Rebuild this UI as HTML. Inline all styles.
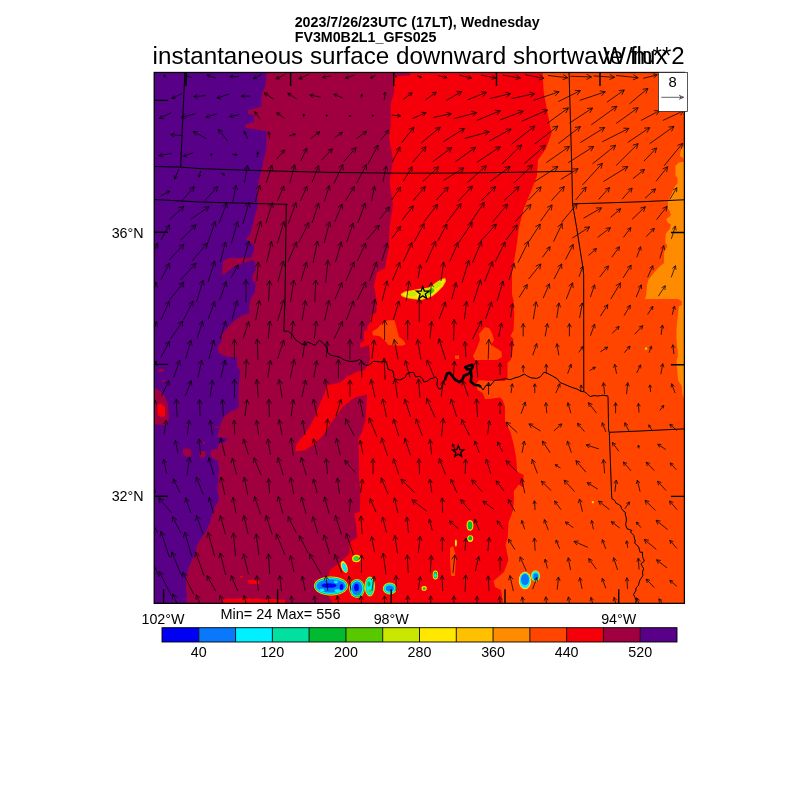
<!DOCTYPE html><html><head><meta charset="utf-8"><style>html,body{margin:0;padding:0;background:#fff;width:800px;height:800px;overflow:hidden}svg{display:block;will-change:transform}text{font-family:"Liberation Sans",Arial,Helvetica,sans-serif}</style></head><body>
<svg width="800" height="800" viewBox="0 0 800 800">
<rect x="0" y="0" width="800" height="800" fill="#fff"/>
<defs><clipPath id="pc"><rect x="154.2" y="72.45" width="530.20" height="530.90"/></clipPath></defs>
<g clip-path="url(#pc)">
<rect x="150" y="70" width="540" height="540" fill="#ff4500"/>
<polygon points="685.00,145.75 682.10,146.90 680.40,152.50 679.90,155.90 683.25,158.10 684.40,161.50 678.75,162.60 675.40,166.00 675.40,175.00 677.60,178.40 677.60,182.90 674.25,187.40 670.90,195.25 668.00,200.90 668.00,208.75 669.75,211.00 670.90,215.50 666.40,219.00 667.50,222.40 670.90,224.60 669.75,229.10 665.80,233.60 665.25,242.60 667.50,246.00 664.10,252.75 664.10,262.90 658.50,267.40 652.90,274.10 648.40,279.75 647.25,284.25 646.10,295.50 645.00,299.00 678.00,299.00 681.75,301.25 681.75,305.00 678.75,306.50 678.00,314.00 676.50,329.00 676.50,339.50 678.00,356.00 676.50,360.50 678.00,380.00 681.75,386.00 682.50,395.00 684.00,398.00 685.00,398.00" fill="#ff8c00"/>
<polygon points="153.00,72.00 542.60,72.00 543.75,92.50 548.00,115.00 551.60,133.00 546.00,148.75 538.00,160.00 537.00,175.75 530.00,193.75 523.50,209.50 519.00,227.50 516.00,250.00 512.00,272.50 512.00,295.00 513.50,300.00 514.25,315.00 513.50,330.00 510.50,336.00 513.50,339.00 512.00,355.50 510.50,360.00 507.50,363.00 507.50,378.00 504.50,381.00 492.50,381.00 479.00,380.25 476.00,384.00 477.50,390.00 482.75,393.00 485.00,399.00 488.00,399.00 500.00,397.50 502.50,400.00 505.00,406.50 505.00,421.00 510.60,432.50 513.90,445.50 516.30,458.50 517.10,471.50 523.60,475.00 523.60,487.75 518.75,484.50 513.90,491.00 513.90,500.75 513.00,510.50 508.50,522.50 507.75,537.50 505.50,545.00 508.50,560.00 504.00,572.00 493.50,581.00 495.00,587.00 501.00,590.00 503.25,604.00 153.00,604.00" fill="#f5000a"/>
<polygon points="388.50,320.25 394.50,320.25 396.00,325.50 397.50,331.50 399.00,336.75 403.50,340.50 405.75,344.25 402.00,345.75 388.50,345.00 384.75,340.50 379.50,336.00 372.75,335.25 372.40,331.50 377.25,328.50 382.50,322.50" fill="#ff4500"/>
<polygon points="485.00,327.00 489.50,328.50 492.50,334.50 494.00,340.00 491.00,345.00 498.50,349.50 501.50,351.75 502.00,357.00 497.00,360.00 475.00,360.00 473.00,356.00 476.00,350.00 480.00,340.00 479.00,334.00" fill="#ff4500"/>
<polygon points="455.00,355.50 459.00,355.50 459.00,359.00 455.00,359.00" fill="#ff4500"/>
<polygon points="450.00,548.00 453.00,546.00 456.00,556.00 455.00,576.00 451.00,576.00 450.00,560.00" fill="#ff4500"/>
<polygon points="153.00,72.00 410.00,72.00 410.00,75.50 394.00,76.50 394.00,92.50 390.75,103.75 390.75,126.00 389.00,137.50 393.00,160.00 389.60,182.50 393.00,205.00 389.60,227.50 388.50,250.00 385.00,268.00 377.00,272.50 374.00,286.00 376.50,300.00 376.50,312.75 370.50,315.00 370.50,322.50 367.50,326.00 367.50,330.00 363.75,331.50 363.75,342.00 360.00,343.50 360.00,347.25 363.00,347.25 369.00,345.00 370.00,358.50 368.50,364.50 364.00,370.50 358.00,371.25 347.50,376.50 340.00,382.50 326.50,385.50 325.00,393.00 320.50,402.00 316.00,414.00 310.00,426.00 304.00,435.00 296.50,444.00 295.25,451.25 304.25,450.50 311.50,446.00 314.50,444.00 323.50,435.00 331.00,423.00 335.50,417.00 343.00,406.50 355.00,397.50 367.00,394.50 365.50,420.00 362.00,432.00 358.25,440.00 359.00,455.00 359.00,479.00 360.50,491.00 359.75,512.00 354.50,513.50 356.00,524.00 357.50,537.50 350.00,542.00 349.50,544.50 349.50,553.50 345.00,558.00 336.00,565.50 330.00,570.00 328.50,576.00 313.50,580.50 327.00,594.00 331.50,600.00 332.25,604.00 153.00,604.00" fill="#a00040"/>
<polygon points="222.00,600.00 228.00,598.50 235.00,599.00 245.00,597.50 252.00,599.00 258.00,598.20 264.00,599.50 270.00,598.50 278.00,599.50 285.00,599.80 285.00,604.00 222.00,604.00" fill="#f5000a"/>
<polygon points="247.50,580.50 252.00,579.50 259.50,581.00 259.50,584.00 249.00,584.00" fill="#f5000a"/>
<polygon points="240.00,576.00 243.00,576.00 243.00,577.50 240.00,577.50" fill="#f5000a"/>
<polygon points="153.00,72.00 266.40,72.00 265.50,85.75 262.00,92.75 261.00,106.75 248.00,110.25 248.00,113.75 254.00,115.50 254.00,122.50 245.40,124.25 245.40,127.75 255.00,129.50 266.40,131.25 266.40,148.75 263.75,159.25 262.00,168.00 260.25,175.00 258.50,182.00 256.75,192.50 257.60,200.00 257.50,207.50 255.60,212.50 253.75,221.25 251.90,227.50 250.00,235.00 245.60,238.75 249.40,241.25 253.75,245.00 254.40,250.00 251.90,255.00 251.25,257.50 228.75,258.10 223.10,261.25 221.90,274.40 225.00,273.75 232.50,267.50 241.25,263.75 252.50,260.00 255.00,262.50 255.60,270.00 252.50,275.00 252.50,281.25 255.60,282.50 255.00,292.50 251.25,297.50 249.00,306.00 249.75,312.75 240.00,316.50 234.00,321.00 228.00,327.00 222.00,334.50 221.25,342.00 217.50,346.50 218.25,352.50 225.00,356.25 237.00,357.75 237.00,366.00 240.00,370.50 238.50,390.00 238.50,408.00 231.00,411.00 225.00,415.50 222.00,420.00 219.00,429.50 217.50,437.00 228.00,438.50 225.00,441.50 219.00,443.75 217.50,447.50 219.00,448.25 211.50,449.75 210.00,455.00 214.50,459.50 218.25,461.00 219.00,470.00 217.50,488.00 219.00,500.00 214.50,507.50 212.25,515.00 209.25,524.00 207.00,530.00 202.50,536.00 197.25,545.00 195.00,554.00 192.00,560.00 188.25,569.00 186.00,578.00 186.00,587.00 186.75,593.00 186.75,604.00 153.00,604.00" fill="#580088"/>
<polygon points="154.00,387.00 160.50,391.50 165.00,396.00 168.00,405.00 168.75,414.00 168.75,420.00 166.00,424.50 160.00,425.00 154.00,424.00" fill="#a00040"/>
<polygon points="158.25,369.00 163.50,369.00 163.50,372.00 158.25,372.00" fill="#a00040"/>
<polygon points="162.00,380.00 165.00,380.00 165.00,381.75 162.00,381.75" fill="#a00040"/>
<polygon points="183.00,449.00 188.00,448.25 191.25,450.00 191.25,456.50 185.00,456.50 183.00,453.00" fill="#a00040"/>
<polygon points="199.50,451.25 205.50,451.25 205.50,457.25 199.50,457.25" fill="#a00040"/>
<polygon points="202.50,441.50 204.75,441.50 204.75,443.75 202.50,443.75" fill="#a00040"/>
<polygon points="215.25,426.50 219.00,426.50 219.00,428.00 215.25,428.00" fill="#a00040"/>
<polygon points="157.50,404.00 161.00,403.50 165.00,407.00 165.00,416.00 161.00,417.00 157.50,415.00" fill="#f5000a"/>
<ellipse cx="331" cy="586" rx="17" ry="9.4" fill="#ffe800"/><ellipse cx="331" cy="586" rx="16.3" ry="8.700000000000001" fill="#00bb30"/><ellipse cx="331" cy="586" rx="15.6" ry="8.0" fill="#00f0ff"/><ellipse cx="331" cy="586" rx="14.4" ry="6.800000000000001" fill="#0a78fa"/>
<ellipse cx="329" cy="585.5" rx="7.5" ry="2.3" fill="#0000f2"/>
<ellipse cx="341.5" cy="587" rx="1.8" ry="3.0" fill="#0000f2"/>
<ellipse cx="336" cy="582" rx="2.2" ry="1.4" fill="#00f0ff"/>
<ellipse cx="337.5" cy="590.5" rx="3.0" ry="1.6" fill="#00f0ff"/>
<ellipse cx="322" cy="590" rx="2.4" ry="1.5" fill="#00f0ff"/>
<ellipse cx="357" cy="588.5" rx="7.8" ry="9.6" fill="#ffe800"/><ellipse cx="357" cy="588.5" rx="7.1" ry="8.9" fill="#00bb30"/><ellipse cx="357" cy="588.5" rx="6.4" ry="8.2" fill="#00f0ff"/><ellipse cx="357" cy="588.5" rx="5.199999999999999" ry="7.0" fill="#0a78fa"/>
<ellipse cx="356.5" cy="587.5" rx="2.4" ry="3.8" fill="#0000f2"/>
<ellipse cx="358.5" cy="594" rx="1.6" ry="1.3" fill="#00bb30"/>
<ellipse cx="369.8" cy="586.5" rx="5.2" ry="10" fill="#c8e800"/><ellipse cx="369.8" cy="586.5" rx="4.2" ry="9.0" fill="#00e09e"/><ellipse cx="369.8" cy="586.5" rx="3.0" ry="7.8" fill="#00f0ff"/>
<ellipse cx="369" cy="584" rx="1.5" ry="2.8" fill="#00bb30"/>
<ellipse cx="370" cy="591" rx="1.5" ry="1.6" fill="#58c800"/>
<ellipse cx="389.8" cy="588.6" rx="7.0" ry="6.0" fill="#c8e800"/><ellipse cx="389.8" cy="588.6" rx="6.1" ry="5.1" fill="#00e09e"/><ellipse cx="389.8" cy="588.6" rx="5.2" ry="4.2" fill="#00f0ff"/><ellipse cx="389.8" cy="588.6" rx="4.0" ry="3.0" fill="#0a78fa"/>
<ellipse cx="344.3" cy="567" rx="3.0" ry="6.2" fill="#ffe800" transform="rotate(-20 344.3 567)"/>
<ellipse cx="344.6" cy="567.5" rx="2.0" ry="4.8" fill="#00f0ff" transform="rotate(-20 344.6 567.5)"/>
<ellipse cx="356.3" cy="558.5" rx="4.2" ry="3.8" fill="#ffe800"/>
<ellipse cx="356.3" cy="558.6" rx="3.0" ry="2.6" fill="#58c800"/>
<ellipse cx="355.8" cy="559" rx="1.4" ry="1.4" fill="#00e09e"/>
<ellipse cx="470" cy="525.4" rx="3.4" ry="5.4" fill="#ffe800"/>
<ellipse cx="470" cy="525.4" rx="2.4" ry="4.2" fill="#00bb30"/>
<ellipse cx="470.25" cy="538.6" rx="3.0" ry="3.4" fill="#ffe800"/>
<ellipse cx="470.25" cy="538.3" rx="2.0" ry="2.2" fill="#00bb30"/>
<ellipse cx="455.9" cy="543" rx="1.0" ry="3.4" fill="#ffe800"/>
<ellipse cx="435.4" cy="575" rx="2.7" ry="4.6" fill="#ffe800"/>
<ellipse cx="435.4" cy="575" rx="1.9" ry="3.4" fill="#00bb30"/>
<ellipse cx="435.4" cy="575.5" rx="1.2" ry="2.2" fill="#00f0ff"/>
<ellipse cx="424.1" cy="588.4" rx="2.6" ry="2.4" fill="#ffe800"/>
<ellipse cx="424.1" cy="588.6" rx="1.5" ry="1.4" fill="#00bb30"/>
<ellipse cx="525" cy="580.5" rx="6.2" ry="8.7" fill="#ffe800"/>
<ellipse cx="525" cy="580.3" rx="5.3" ry="7.6" fill="#00f0ff"/>
<ellipse cx="525" cy="579.5" rx="4.0" ry="5.8" fill="#0a78fa"/>
<ellipse cx="535.5" cy="576" rx="4.6" ry="5.7" fill="#c8e800"/>
<ellipse cx="535.5" cy="576" rx="3.7" ry="4.7" fill="#00f0ff"/>
<ellipse cx="535.8" cy="576.5" rx="2.5" ry="3.2" fill="#0a78fa"/>
<rect x="645" y="347.5" width="2.2" height="2.2" fill="#c8e800"/>
<rect x="591.8" y="501.2" width="2" height="2" fill="#ffe800"/>
<polygon points="400.60,294.00 404.75,291.40 413.00,289.90 419.75,288.75 428.75,287.60 435.50,282.75 441.50,279.00 445.25,277.90 446.00,281.25 443.00,286.50 437.00,292.50 432.50,296.25 426.50,298.50 421.25,300.00 413.75,299.25 406.25,298.10 401.75,296.25" fill="#ffc000"/>
<polygon points="402.50,294.20 406.00,292.30 413.00,291.00 420.00,289.80 429.00,288.60 436.00,283.80 441.80,280.20 444.60,279.30 444.80,281.50 442.00,286.20 436.30,291.80 431.80,295.20 426.00,297.40 421.00,298.90 414.00,298.20 406.50,297.10 403.00,295.60" fill="#ffe800"/>
<ellipse cx="412" cy="294" rx="4.5" ry="2.6" fill="#c8e800"/>
<ellipse cx="426" cy="292.6" rx="6" ry="3.6" fill="#c8e800" transform="rotate(-12 426 292.6)"/>
<ellipse cx="437.5" cy="285" rx="5" ry="2.6" fill="#c8e800" transform="rotate(-38 437.5 285)"/>
<ellipse cx="431" cy="291" rx="3.5" ry="2.4" fill="#58c800" transform="rotate(-25 431 291)"/>
<polyline points="185.00,70.00 180.60,167.10" fill="none" stroke="#000" stroke-width="1.0" stroke-linejoin="round"/>
<polyline points="150.00,166.40 180.60,167.10 200.00,168.60 258.00,170.60 330.00,172.40 400.00,173.20 450.00,173.10 510.00,172.40 571.90,171.25" fill="none" stroke="#000" stroke-width="1.0" stroke-linejoin="round"/>
<polyline points="569.00,70.00 571.90,171.25 572.50,203.80 576.70,228.00 582.50,265.00 583.70,274.40 583.80,391.75" fill="none" stroke="#000" stroke-width="1.0" stroke-linejoin="round"/>
<polyline points="572.50,203.80 600.00,203.10 640.00,201.80 688.00,199.60" fill="none" stroke="#000" stroke-width="1.0" stroke-linejoin="round"/>
<polyline points="150.00,199.30 200.00,202.00 287.50,204.40" fill="none" stroke="#000" stroke-width="1.0" stroke-linejoin="round"/>
<polyline points="286.30,204.40 285.00,300.00 283.80,331.20" fill="none" stroke="#000" stroke-width="1.0" stroke-linejoin="round"/>
<polyline points="284.00,331.20 288.25,331.20 292.40,334.60 295.10,339.40 297.90,341.50 302.00,344.25 305.40,345.00 307.50,342.20 311.60,343.60 315.00,345.40 317.10,342.90 319.20,340.10 322.00,342.20 324.70,345.00 327.50,348.40 327.50,352.50 330.90,355.30 336.40,356.40 339.80,357.30 344.60,360.10 350.15,361.45 355.65,361.05 359.80,359.40 362.50,362.10 366.00,365.60 369.40,364.90 372.85,361.45 376.30,361.45 380.00,361.90 385.00,361.25 386.90,363.75 388.10,369.40 392.50,370.60 393.75,373.75 393.75,377.50 396.25,379.40 400.00,380.00 405.00,377.50 406.90,373.75 410.00,372.50 413.75,372.50 415.60,376.90 420.00,376.25 422.50,378.75 423.75,381.90 427.50,381.25 430.00,378.75 433.75,378.10 435.60,376.90 437.50,379.40 436.90,385.00 438.75,388.75 441.25,388.75 442.50,383.75 445.00,380.00" fill="none" stroke="#000" stroke-width="1.0" stroke-linejoin="round"/>
<polyline points="481.00,387.00 483.10,390.00 486.00,385.30 490.60,385.30 494.40,380.60 500.00,379.70 505.60,378.75 510.30,379.70 515.00,377.80 518.75,376.90 524.40,374.10 527.20,376.00 531.00,377.80 536.60,378.40 540.30,376.90 544.00,372.20 546.90,373.10 552.50,376.00 557.20,378.75 560.00,382.50 564.70,384.40 571.25,387.20 576.90,389.00 580.60,391.00 584.40,391.90 587.20,393.75 590.00,396.60 593.75,395.60 597.50,396.00 603.10,395.25 608.00,396.00" fill="none" stroke="#000" stroke-width="1.0" stroke-linejoin="round"/>
<polyline points="608.00,396.25 608.60,430.00 609.30,432.30 611.60,495.00" fill="none" stroke="#000" stroke-width="1.0" stroke-linejoin="round"/>
<polyline points="609.30,432.30 640.00,431.00 688.00,428.70" fill="none" stroke="#000" stroke-width="1.0" stroke-linejoin="round"/>
<polyline points="611.60,495.00 611.90,498.80 613.90,499.80 615.30,501.20 615.65,502.90 618.75,504.60 620.80,506.00 621.50,508.40 622.90,510.50 625.30,512.20 625.30,515.00 626.30,517.70 626.30,521.10 625.60,524.55 627.00,528.70 629.75,529.70 631.80,530.40 630.40,532.10 632.50,533.80 633.90,535.55 634.55,539.00 635.25,541.00 634.55,543.10 636.90,545.00 638.75,547.25 639.50,550.25 640.25,552.50 642.50,552.10 642.50,556.25 643.25,558.50 644.40,561.10 641.00,563.75 642.50,566.75 643.60,568.60 642.50,572.00 642.90,575.75 640.25,579.50 639.10,582.50 638.40,585.50 636.10,587.75 635.75,590.75 633.50,594.50 635.00,597.50 636.10,600.50 635.40,606.00" fill="none" stroke="#000" stroke-width="1.0" stroke-linejoin="round"/>
<polyline points="445.00,380.00 446.75,374.25 447.50,373.50 449.75,372.75 452.00,375.75 455.00,379.50 459.50,382.20 462.50,379.50 464.00,375.75 467.75,374.25 470.75,372.00 470.00,369.00 467.00,369.30 465.20,367.20 467.75,366.00 472.25,364.80 472.70,366.75 470.75,370.50 471.50,376.50 470.75,381.75 474.50,384.75 479.00,385.50 481.00,387.00" fill="none" stroke="#000" stroke-width="2.7" stroke-linejoin="round"/>
<path d="M166.65 78.10L163.65 75.10M164.40 77.54L163.65 75.10L166.09 75.85M192.25 77.60L184.25 75.60M186.74 77.84L184.25 75.60L187.50 74.79M215.85 78.10L206.85 75.10M209.33 77.71L206.85 75.10L210.40 74.50M238.95 76.60L229.95 76.60M233.04 78.24L229.95 76.60L233.04 74.96M261.55 74.60L253.55 78.60M257.04 78.69L253.55 78.60L255.57 75.76M285.15 74.35L276.15 78.85M279.86 78.94L276.15 78.85L278.30 75.83M308.75 74.35L298.75 78.85M302.63 79.11L298.75 78.85L301.13 75.77M331.10 75.85L322.60 77.35M325.86 78.41L322.60 77.35L325.30 75.24M354.45 75.10L345.45 78.10M349.00 78.70L345.45 78.10L347.93 75.49M375.55 75.10L370.55 78.10M373.41 77.95L370.55 78.10L372.03 75.64M395.65 76.35L396.65 76.85M395.49 75.22L396.65 76.85L394.65 76.90M417.00 75.85L421.50 77.35M419.67 75.43L421.50 77.35L418.89 77.79M437.85 75.50L446.85 77.70M444.20 75.33L446.85 77.70L443.41 78.58M459.25 75.10L471.65 78.10M468.47 75.28L471.65 78.10L467.53 79.16M481.25 75.10L495.85 78.10M492.24 75.12L495.85 78.10L491.36 79.42M502.95 75.10L520.35 78.10M516.22 74.89L520.35 78.10L515.38 79.74M525.45 74.85L544.05 78.35M539.77 74.92L544.05 78.35L538.81 79.99M547.95 75.45L567.75 77.75M563.14 74.57L567.75 77.75L562.54 79.79M570.45 76.25L591.45 76.95M586.60 74.16L591.45 76.95L586.42 79.41M593.55 75.90L614.55 77.30M609.79 74.35L614.55 77.30L609.44 79.59M616.15 75.45L638.15 77.75M633.51 74.62L638.15 77.75L632.96 79.85M643.25 78.35L657.25 74.85M652.80 73.74L657.25 74.85L653.84 77.92M181.70 93.84L171.70 98.34M175.58 98.60L171.70 98.34L174.08 95.26M205.80 95.59L193.80 96.59M197.58 98.21L193.80 96.59L197.25 94.37M228.90 94.09L216.90 98.09M221.07 98.79L216.90 98.09L219.82 95.03M250.50 96.09L241.50 96.09M244.59 97.73L241.50 96.09L244.59 94.45M274.10 99.39L264.10 92.79M266.06 96.39L264.10 92.79L268.18 93.18M296.70 98.96L287.70 93.21M289.58 96.56L287.70 93.21L291.52 93.52M320.80 97.09L309.80 95.09M312.89 97.53L309.80 95.09L313.55 93.89M342.90 97.99L333.90 94.19M336.20 97.03L333.90 94.19L337.54 93.86M360.85 97.99L362.15 94.19M360.32 95.90L362.15 94.19L362.55 96.66M384.10 100.09L385.10 92.09M383.19 94.80L385.10 92.09L386.28 95.19M403.20 99.46L412.20 92.71M408.30 93.32L412.20 92.71L410.52 96.29M425.30 100.09L436.30 92.09M431.92 92.71L436.30 92.09L434.36 96.06M446.03 100.69L461.78 91.49M456.43 91.70L461.78 91.49L458.96 96.04M467.50 99.89L486.50 92.29M480.93 91.69L486.50 92.29L482.89 96.57M489.60 98.59L510.60 93.59M505.18 92.18L510.60 93.59L506.40 97.29M511.70 98.59L534.70 93.59M529.31 92.07L534.70 93.59L530.43 97.21M533.50 100.39L559.10 91.79M553.58 90.87L559.10 91.79L555.25 95.86M558.40 101.59L580.40 90.59M574.80 90.45L580.40 90.59L577.15 95.15M579.70 100.39L605.30 91.79M599.78 90.87L605.30 91.79L601.45 95.86M606.90 102.24L624.30 89.94M618.74 90.65L624.30 89.94L621.78 94.94M629.40 103.89L648.00 88.29M642.52 89.45L648.00 88.29L645.90 93.48M171.15 112.70L159.15 118.45M163.51 118.64L159.15 118.45L161.74 114.94M195.25 113.70L181.25 117.45M185.73 118.49L181.25 117.45L184.61 114.32M216.85 113.93L205.85 117.23M209.77 118.01L205.85 117.23L208.69 114.42M239.45 114.48L229.45 116.68M233.06 117.69L229.45 116.68L232.30 114.25M260.30 119.43L254.80 111.73M255.27 115.29L254.80 111.73L258.02 113.33M284.50 118.45L276.80 112.70M278.34 115.98L276.80 112.70L280.38 113.26M303.75 117.23L303.75 113.93M302.64 116.01L303.75 113.93L304.86 116.01M327.60 116.33L326.10 114.83M326.72 116.86L326.10 114.83L328.13 115.45M349.95 116.08L349.95 115.08M349.01 116.85L349.95 115.08L350.89 116.85M372.55 115.58L373.55 115.58M371.78 114.64L373.55 115.58L371.78 116.52M391.65 115.08L400.65 116.08M397.75 114.10L400.65 116.08L397.39 117.38M412.50 118.58L426.00 112.58M421.36 112.25L426.00 112.58L423.13 116.25M433.35 117.48L451.35 113.68M446.18 112.19L451.35 113.68L447.22 117.13M454.20 118.58L476.70 112.58M471.25 111.31L476.70 112.58L472.60 116.39M476.75 120.43L500.35 110.73M494.78 110.18L500.35 110.73L496.78 115.04M500.02 119.98L523.27 111.18M517.72 110.47L523.27 111.18L519.58 115.39M521.95 121.18L547.55 109.98M541.97 109.55L547.55 109.98L544.07 114.37M547.35 123.23L568.35 107.93M562.81 108.72L568.35 107.93L565.90 112.97M569.33 123.13L592.58 108.03M587.00 108.52L592.58 108.03L589.86 112.93M591.25 124.88L616.85 106.28M611.30 107.06L616.85 106.28L614.40 111.31M616.15 123.48L638.15 107.68M632.60 108.43L638.15 107.68L635.67 112.70M640.95 120.48L659.55 110.68M653.95 110.66L659.55 110.68L656.40 115.31M662.85 120.48L683.85 110.68M678.26 110.39L683.85 110.68L680.48 115.15M182.70 135.57L170.70 134.57M174.15 136.79L170.70 134.57L174.48 132.95M206.30 138.57L193.30 131.57M195.88 135.44L193.30 131.57L197.95 131.59M227.40 140.82L218.40 129.32M219.21 133.87L218.40 129.32L222.62 131.20M247.75 138.92L244.25 131.22M244.04 134.61L244.25 131.22L246.94 133.29M269.60 138.37L268.60 131.77M267.59 134.63L268.60 131.77L270.41 134.21M288.90 135.97L295.50 134.17M292.51 133.49L295.50 134.17L293.27 136.27M310.80 138.37L319.80 131.77M315.91 132.33L319.80 131.77L318.09 135.31M334.45 137.77L342.35 132.37M338.76 132.77L342.35 132.37L340.67 135.57M356.50 138.67L366.50 131.47M362.37 132.03L366.50 131.47L364.66 135.21M380.65 140.07L388.55 130.07M384.66 131.78L388.55 130.07L387.79 134.25M401.50 142.94L413.90 127.19M408.78 129.45L413.90 127.19L412.91 132.71M421.30 142.94L440.30 127.19M434.82 128.33L440.30 127.19L438.17 132.37M443.20 141.82L464.60 128.32M459.02 128.73L464.60 128.32L461.82 133.18M464.62 138.44L489.38 131.69M483.91 130.46L489.38 131.69L485.30 135.53M489.10 141.07L511.10 129.07M505.50 129.13L511.10 129.07L508.02 133.75M511.58 144.07L534.83 126.07M529.31 127.02L534.83 126.07L532.52 131.18M534.67 144.07L557.92 126.07M552.41 127.02L557.92 126.07L555.62 131.18M558.40 143.57L580.40 126.57M574.88 127.51L580.40 126.57L578.10 131.67M580.30 142.62L604.70 127.52M599.11 127.89L604.70 127.52L601.88 132.36M602.25 141.82L628.95 128.32M623.35 128.20L628.95 128.32L625.72 132.90M627.70 142.52L649.70 127.62M644.13 128.22L649.70 127.62L647.08 132.57M649.60 143.77L674.00 126.37M668.45 127.10L674.00 126.37L671.50 131.38M171.65 153.46L158.65 155.66M162.77 157.03L158.65 155.66L162.09 153.01M193.25 152.69L183.25 156.44M187.05 156.93L183.25 156.44L185.79 153.56M211.35 153.56L211.35 155.56M212.34 153.71L211.35 155.56L210.36 153.71M231.70 154.06L237.20 155.06M234.99 153.31L237.20 155.06L234.52 155.92M257.05 157.31L258.05 151.81M256.30 154.02L258.05 151.81L258.91 154.49M276.80 159.21L284.50 149.91M280.70 151.48L284.50 149.91L283.67 153.94M300.75 161.06L306.75 148.06M303.12 150.82L306.75 148.06L307.01 152.62M321.35 160.31L332.35 148.81M327.71 150.34L332.35 148.81L331.03 153.51M343.75 161.66L356.15 147.46M351.04 149.41L356.15 147.46L354.91 152.79M368.05 163.91L378.05 145.21M373.40 148.33L378.05 145.21L378.04 150.81M392.20 162.21L400.10 146.91M395.87 149.84L400.10 146.91L400.16 152.05M412.50 162.44L426.00 146.69M420.79 148.73L426.00 146.69L424.78 152.15M432.85 161.66L451.85 147.46M446.32 148.31L451.85 147.46L449.46 152.53M455.33 161.86L475.58 147.26M470.03 148.02L475.58 147.26L473.10 152.28M476.75 162.44L500.35 146.69M494.78 147.24L500.35 146.69L497.70 151.62M501.75 164.21L521.55 144.91M516.17 146.48L521.55 144.91L519.84 150.24M524.25 163.86L545.25 145.26M539.81 146.57L545.25 145.26L543.29 150.51M546.23 162.71L569.48 146.41M563.92 147.10L569.48 146.41L566.94 151.40M568.15 162.71L593.75 146.41M588.17 146.85L593.75 146.41L590.99 151.28M592.43 163.86L615.68 145.26M610.17 146.30L615.68 145.26L613.46 150.40M616.15 165.51L638.15 143.61M632.79 145.24L638.15 143.61L636.50 148.96M643.85 161.21L656.65 147.91M651.52 149.58L656.65 147.91L655.17 153.10M664.05 165.81L682.65 143.31M677.47 145.45L682.65 143.31L681.53 148.80M178.70 169.05L174.70 179.05M177.64 176.56L174.70 179.05L174.28 175.22M200.55 170.75L199.05 177.35M201.05 175.04L199.05 177.35L198.25 174.40M220.90 172.95L224.90 175.15M223.47 172.96L224.90 175.15L222.29 175.11M244.50 182.90L247.50 165.20M244.27 169.39L247.50 165.20L249.17 170.22M266.10 182.90L272.10 165.20M268.14 168.93L272.10 165.20L272.98 170.57M289.70 183.45L294.70 164.65M290.89 168.75L294.70 164.65L295.97 170.10M312.00 182.55L318.60 165.55M314.55 169.04L318.60 165.55L319.23 170.86M333.90 183.55L342.90 164.55M338.41 167.89L342.90 164.55L343.16 170.14M356.50 183.55L366.50 164.55M361.87 167.70L366.50 164.55L366.52 170.15M382.90 181.92L386.30 166.17M383.12 169.94L386.30 166.17L387.64 170.91M403.20 181.35L412.20 166.75M407.77 169.34L412.20 166.75L411.87 171.87M422.93 181.35L438.68 166.75M433.26 168.18L438.68 166.75L436.84 172.04M443.78 180.25L464.03 167.85M458.44 168.19L464.03 167.85L461.18 172.67M467.50 182.50L486.50 165.60M481.06 166.92L486.50 165.60L484.55 170.85M490.10 181.55L510.10 166.55M504.57 167.41L510.10 166.55L507.72 171.62M513.90 183.10L532.50 165.00M527.12 166.56L532.50 165.00L530.79 170.33M534.67 181.60L557.92 166.50M552.35 166.99L557.92 166.50L555.21 171.40M560.70 179.50L578.10 168.60M572.51 169.00L578.10 168.60L575.31 173.45M582.60 184.85L602.40 163.25M597.12 165.12L602.40 163.25L601.00 168.67M603.40 181.60L627.80 166.50M622.21 166.87L627.80 166.50L624.98 171.34M632.90 178.70L644.50 169.40M639.91 170.27L644.50 169.40L642.65 173.69M656.00 181.35L667.60 166.75M662.62 168.92L667.60 166.75L666.61 172.09M160.50 196.04L169.80 191.04M165.99 191.06L169.80 191.04L167.68 194.21M182.25 200.54L194.25 186.54M189.23 188.51L194.25 186.54L193.07 191.80M204.85 200.54L217.85 186.54M212.63 188.35L217.85 186.54L216.43 191.88M232.80 201.84L236.10 185.24M232.88 189.18L236.10 185.24L237.57 190.11M255.35 201.84L259.75 185.24M256.26 189.00L259.75 185.24L260.92 190.24M277.35 201.04L283.95 186.04M280.04 189.12L283.95 186.04L284.32 191.00M300.45 200.84L307.05 186.24M303.17 189.24L307.05 186.24L307.36 191.13M324.35 201.54L329.35 185.54M325.76 189.09L329.35 185.54L330.28 190.51M345.45 200.54L354.45 186.54M350.06 189.00L354.45 186.54L354.03 191.55M371.55 201.04L374.55 186.04M371.53 189.72L374.55 186.04L375.92 190.60M391.65 200.04L400.65 187.04M396.33 189.27L400.65 187.04L400.08 191.87M413.25 200.54L425.25 186.54M420.23 188.51L425.25 186.54L424.07 191.80M436.35 200.04L448.35 187.04M443.41 188.77L448.35 187.04L447.02 192.11M458.45 201.04L472.45 186.04M467.15 187.86L472.45 186.04L471.00 191.45M481.55 200.54L495.55 186.54M490.19 188.18L495.55 186.54L493.91 191.90M504.10 200.54L519.20 186.54M513.79 187.97L519.20 186.54L517.36 191.83M528.35 200.19L541.15 186.89M536.02 188.56L541.15 186.89L539.67 192.08M551.45 200.54L564.25 186.54M559.07 188.38L564.25 186.54L562.88 191.86M575.70 199.94L586.20 187.14M581.57 189.07L586.20 187.14L585.21 192.05M598.55 199.54L609.55 187.54M604.88 189.19L609.55 187.54L608.31 192.34M622.15 199.04L632.15 188.04M627.75 189.62L632.15 188.04L631.00 192.57M645.00 198.19L655.50 188.89M651.12 189.94L655.50 188.89L653.92 193.11M669.85 199.34L676.85 187.74M673.07 190.00L676.85 187.74L676.61 192.14M169.50 219.68L183.90 206.38M178.48 207.80L183.90 206.38L182.05 211.67M190.40 219.43L209.20 206.63M203.63 207.24L209.20 206.63L206.59 211.59M219.05 223.33L226.75 202.73M222.56 206.44L226.75 202.73L227.48 208.28M243.00 223.88L249.00 202.18M245.15 206.25L249.00 202.18L250.22 207.65M265.80 223.33L272.40 202.73M268.39 206.64L272.40 202.73L273.40 208.24M288.35 223.53L296.05 202.53M291.88 206.27L296.05 202.53L296.82 208.08M312.00 223.03L318.60 203.03M314.55 206.90L318.60 203.03L319.55 208.55M334.70 222.03L342.10 204.03M337.79 207.60L342.10 204.03L342.65 209.60M357.80 223.03L365.20 203.03M361.02 206.75L365.20 203.03L365.95 208.58M379.60 219.23L389.60 206.83M385.11 208.75L389.60 206.83L388.68 211.63M402.07 220.13L413.32 205.93M408.45 208.06L413.32 205.93L412.37 211.17M424.05 221.68L437.55 204.38M432.44 206.66L437.55 204.38L436.58 209.90M446.60 222.53L461.20 203.53M456.10 205.85L461.20 203.53L460.27 209.05M469.70 223.73L484.30 202.33M479.34 204.93L484.30 202.33L483.69 207.90M492.60 222.03L507.60 204.03M502.41 206.15L507.60 204.03L506.45 209.51M515.40 221.63L531.00 204.43M525.73 206.33L531.00 204.43L529.63 209.86M540.50 221.18L552.10 204.88M547.09 207.38L552.10 204.88L551.38 210.43M561.60 222.33L577.20 203.73M572.01 205.83L577.20 203.73L576.04 209.21M583.45 218.28L601.55 207.78M595.95 207.99L601.55 207.78L598.59 212.54M610.60 217.33L620.60 208.73M616.37 209.68L620.60 208.73L619.02 212.77M632.05 219.33L645.35 206.73M640.18 208.16L645.35 206.73L643.64 211.82M656.55 219.68L667.05 206.38M662.39 208.43L667.05 206.38L666.14 211.39M160.75 240.27L169.55 224.77M165.11 227.59L169.55 224.77L169.40 230.03M180.50 240.27L196.00 224.77M190.64 226.41L196.00 224.77L194.36 230.13M207.50 243.52L215.20 221.52M211.09 225.32L215.20 221.52L216.05 227.06M231.35 243.52L237.55 221.52M233.68 225.57L237.55 221.52L238.74 226.99M254.45 243.52L260.65 221.52M256.78 225.57L260.65 221.52L261.84 226.99M277.35 243.52L283.95 221.52M280.01 225.50L283.95 221.52L285.05 227.01M298.75 242.52L308.75 222.52M304.19 225.77L308.75 222.52L308.89 228.12M324.05 243.22L329.65 221.82M325.85 225.94L329.65 221.82L330.94 227.27M346.80 242.02L353.10 223.02M349.05 226.89L353.10 223.02L354.04 228.54M366.85 239.82L379.25 225.22M374.11 227.26L379.25 225.22L378.07 230.62M391.65 238.72L400.65 226.32M396.37 228.41L400.65 226.32L399.99 231.04M414.25 241.52L424.25 223.52M419.55 226.57L424.25 223.52L424.15 229.12M437.85 241.02L446.85 224.02M442.26 227.13L446.85 224.02L446.86 229.57M458.70 242.64L472.20 222.39M467.27 225.05L472.20 222.39L471.64 227.97M480.68 241.02L496.43 224.02M491.14 225.86L496.43 224.02L494.99 229.43M506.05 240.07L517.25 224.97M512.32 227.32L517.25 224.97L516.44 230.37M529.25 241.02L540.25 224.02M535.36 226.74L540.25 224.02L539.77 229.60M553.55 241.57L562.15 223.47M557.65 226.81L562.15 223.47L562.40 229.06M572.25 238.12L589.65 226.92M584.07 227.39L589.65 226.92L586.92 231.81M597.65 237.42L610.45 227.62M605.59 228.43L610.45 227.62L608.40 232.10M623.45 237.42L630.85 227.62M627.08 229.37L630.85 227.62L630.20 231.72M646.20 236.72L654.30 228.32M650.46 229.57L654.30 228.32L653.19 232.20M671.35 238.92L675.35 226.12M672.23 229.20L675.35 226.12L676.16 230.43M149.60 261.01L157.60 243.01M153.19 246.46L157.60 243.01L157.99 248.60M169.50 259.76L183.90 244.26M178.61 246.09L183.90 244.26L182.46 249.67M192.05 260.86L207.55 243.16M202.31 245.15L207.55 243.16L206.27 248.61M220.40 262.01L225.40 242.01M221.65 246.17L225.40 242.01L226.75 247.44M242.90 263.01L249.10 241.01M245.23 245.06L249.10 241.01L250.29 246.48M266.60 262.51L271.60 241.51M267.90 245.71L271.60 241.51L273.01 246.93M287.80 262.01L296.60 242.01M292.20 245.48L296.60 242.01L297.02 247.59M313.10 263.01L317.50 241.01M313.95 245.34L317.50 241.01L319.11 246.37M335.47 262.13L341.32 241.88M337.43 245.91L341.32 241.88L342.48 247.36M357.35 261.01L365.65 243.01M361.19 246.40L365.65 243.01L365.97 248.60M381.80 261.01L387.40 243.01M383.51 246.86L387.40 243.01L388.42 248.38M403.45 261.51L411.95 242.51M407.53 245.95L411.95 242.51L412.33 248.10M425.95 262.71L435.65 241.31M431.21 244.73L435.65 241.31L436.00 246.90M449.75 261.51L458.05 242.51M453.66 245.99L458.05 242.51L458.48 248.09M472.50 262.71L481.50 241.31M477.16 244.85L481.50 241.31L482.01 246.89M495.10 262.01L505.10 242.01M500.54 245.26L505.10 242.01L505.24 247.61M517.95 262.71L528.45 241.31M523.91 244.59L528.45 241.31L528.63 246.91M542.45 257.26L550.15 246.76M546.27 248.63L550.15 246.76L549.53 251.02M565.55 259.56L573.25 244.46M569.08 247.38L573.25 244.46L573.34 249.55M588.45 255.51L596.55 248.51M592.80 249.36L596.55 248.51L595.16 252.09M611.75 257.26L619.45 246.76M615.57 248.63L619.45 246.76L618.83 251.02M636.70 257.26L640.70 246.76M637.73 249.36L640.70 246.76L641.19 250.68M659.80 258.41L663.80 245.61M660.68 248.69L663.80 245.61L664.61 249.92M160.75 279.80L169.55 263.20M165.03 266.26L169.55 263.20L169.56 268.66M180.50 279.80L196.00 263.20M190.70 265.02L196.00 263.20L194.55 268.61M208.05 282.00L214.65 261.00M210.66 264.93L214.65 261.00L215.68 266.51M230.80 278.15L238.10 264.85M234.14 267.45L238.10 264.85L238.04 269.58M256.80 281.00L258.30 262.00M255.34 266.65L258.30 262.00L260.50 267.06M277.90 282.00L283.40 261.00M279.60 265.12L283.40 261.00L284.69 266.45M301.00 280.90L306.50 262.10M302.59 266.11L306.50 262.10L307.63 267.58M325.73 282.75L327.98 260.25M324.87 264.91L327.98 260.25L330.10 265.43M345.70 281.00L354.20 262.00M349.78 265.44L354.20 262.00L354.58 267.59M369.45 281.00L376.65 262.00M372.44 265.69L376.65 262.00L377.36 267.56M392.45 280.50L399.85 262.50M395.54 266.07L399.85 262.50L400.40 268.07M418.12 278.25L420.38 264.75M417.68 268.27L420.38 264.75L421.79 268.96M441.00 281.00L443.70 262.00M440.44 266.48L443.70 262.00L445.59 267.21M462.08 282.75L468.83 260.25M464.89 264.23L468.83 260.25L469.92 265.74M484.60 281.62L492.50 261.38M488.25 265.03L492.50 261.38L493.15 266.94M509.10 279.65L514.20 263.35M510.56 266.94L514.20 263.35L515.14 268.38M528.60 279.05L540.90 263.95M535.74 266.12L540.90 263.95L539.82 269.44M554.00 279.05L561.70 263.95M557.53 266.87L561.70 263.95L561.79 269.04M578.95 276.75L582.95 266.25M579.98 268.85L582.95 266.25L583.44 270.17M599.65 277.10L608.45 265.90M604.29 267.74L608.45 265.90L607.65 270.38M623.10 277.90L631.20 265.10M627.09 267.44L631.20 265.10L630.84 269.82M647.60 277.30L652.90 265.70M649.53 268.28L652.90 265.70L653.16 269.94M671.25 277.30L675.45 265.70M672.36 268.49L675.45 265.70L676.04 269.83M151.10 299.99L156.10 281.99M152.36 285.93L156.10 281.99L157.27 287.30M169.50 299.84L183.90 282.14M178.74 284.32L183.90 282.14L182.82 287.63M196.50 301.99L203.10 279.99M199.16 283.97L203.10 279.99L204.20 285.48M219.60 300.39L226.20 281.59M222.08 285.38L226.20 281.59L227.04 287.13M246.00 302.49L246.00 279.49M243.37 284.43L246.00 279.49L248.63 284.43M268.60 301.49L269.60 280.49M266.74 285.30L269.60 280.49L271.99 285.55M290.55 301.99L293.85 279.99M290.52 284.49L293.85 279.99L295.72 285.27M314.80 301.99L315.80 279.99M312.95 284.81L315.80 279.99L318.20 285.05M334.80 299.49L342.00 282.49M337.81 285.89L342.00 282.49L342.47 287.86M357.25 299.99L365.75 281.99M361.26 285.34L365.75 281.99L366.02 287.58M382.00 301.12L387.20 280.87M383.42 285.00L387.20 280.87L388.52 286.31M406.35 300.99L409.05 280.99M405.78 285.54L409.05 280.99L410.99 286.24M430.25 299.49L431.35 282.49M428.67 286.84L431.35 282.49L433.45 287.14M451.65 299.49L456.15 282.49M452.60 286.32L456.15 282.49L457.34 287.57M473.40 302.24L480.60 279.74M476.59 283.65L480.60 279.74L481.60 285.25M497.10 300.99L503.10 280.99M499.16 284.97L503.10 280.99L504.20 286.48M519.15 297.39L527.25 284.59M523.14 286.93L527.25 284.59L526.89 289.31M543.15 298.19L549.45 283.79M545.65 286.80L549.45 283.79L549.82 288.62M566.25 299.14L572.55 282.84M568.62 286.24L572.55 282.84L573.17 288.00M590.40 297.14L594.60 284.84M591.46 287.78L594.60 284.84L595.28 289.08M610.70 299.14L620.50 282.84M615.78 285.67L620.50 282.84L620.21 288.34M636.15 297.14L641.25 284.84M637.88 287.61L641.25 284.84L641.67 289.18M658.30 296.24L665.30 285.74M661.58 287.74L665.30 285.74L664.88 289.94M161.05 319.88L169.25 301.08M164.86 304.56L169.25 301.08L169.68 306.66M183.50 319.88L193.00 301.08M188.42 304.31L193.00 301.08L193.12 306.68M208.05 319.33L214.65 301.63M210.55 305.26L214.65 301.63L215.37 307.06M231.95 320.48L236.95 300.48M233.20 304.64L236.95 300.48L238.30 305.91M255.65 320.48L259.45 300.48M255.94 304.85L259.45 300.48L261.11 305.83M277.55 320.98L283.75 299.98M279.83 303.98L283.75 299.98L284.87 305.47M302.10 320.48L305.40 300.48M302.00 304.93L305.40 300.48L307.19 305.79M324.60 320.61L329.10 300.36M325.46 304.61L329.10 300.36L330.59 305.75M346.35 319.98L353.55 300.98M349.34 304.67L353.55 300.98L354.26 306.54M371.15 321.73L374.95 299.23M371.53 303.67L374.95 299.23L376.72 304.54M393.35 319.98L398.95 300.98M395.03 304.98L398.95 300.98L400.07 306.47M419.25 322.28L419.25 298.68M416.62 303.62L419.25 298.68L421.88 303.62M439.20 318.98L445.50 301.98M441.52 305.52L445.50 301.98L446.21 307.26M464.33 319.48L466.58 301.48M463.51 305.84L466.58 301.48L468.47 306.46M485.55 318.98L491.55 301.98M487.64 305.57L491.55 301.98L492.34 307.23M510.70 317.48L512.60 303.48M509.96 307.15L512.60 303.48L514.17 307.73M533.35 319.18L536.15 301.78M533.00 305.94L536.15 301.78L537.84 306.72M556.70 318.03L559.00 302.93M556.16 306.74L559.00 302.93L560.57 307.42M579.55 317.98L582.35 302.98M579.39 306.70L582.35 302.98L583.77 307.51M600.35 316.28L607.75 304.68M603.87 306.87L607.75 304.68L607.40 309.12M624.00 315.73L630.30 305.23M626.74 307.37L630.30 305.23L630.09 309.37M647.60 314.53L652.90 306.43M649.71 308.18L652.90 306.43L652.57 310.05M672.20 314.78L674.50 306.18M672.13 308.73L674.50 306.18L675.28 309.57M150.60 338.47L156.60 321.47M152.69 325.06L156.60 321.47L157.39 326.72M170.60 338.82L182.80 321.12M177.83 323.70L182.80 321.12L182.16 326.68M197.05 338.82L202.55 321.12M198.71 324.93L202.55 321.12L203.56 326.43M220.15 338.82L225.65 321.12M221.81 324.93L225.65 321.12L226.66 326.43M243.25 338.27L248.75 321.67M244.99 325.26L248.75 321.67L249.62 326.79M268.20 338.82L270.00 321.12M267.07 325.49L270.00 321.12L271.99 325.99M291.20 338.97L293.20 320.97M290.20 325.36L293.20 320.97L295.16 325.92M314.30 338.97L316.30 320.97M313.30 325.36L316.30 320.97L318.26 325.92M334.25 338.47L342.55 321.47M338.11 324.69L342.55 321.47L342.74 326.95M360.85 338.97L362.15 320.97M359.33 325.47L362.15 320.97L364.30 325.83M384.60 339.97L384.60 319.97M381.97 324.91L384.60 319.97L387.23 324.91M407.70 339.97L407.70 319.97M405.07 324.91L407.70 319.97L410.33 324.91M429.90 338.47L431.70 321.47M428.83 325.71L431.70 321.47L433.61 326.22M453.55 340.47L454.25 319.47M451.46 324.32L454.25 319.47L456.71 324.50M472.50 338.97L481.50 320.97M476.94 324.22L481.50 320.97L481.64 326.57M498.60 336.97L501.60 322.97M498.66 326.46L501.60 322.97L502.85 327.36M523.20 336.37L523.20 323.57M521.20 327.33L523.20 323.57L525.20 327.33M545.15 336.37L547.45 323.57M544.79 326.95L547.45 323.57L548.77 327.66M569.40 336.37L569.40 323.57M567.40 327.33L569.40 323.57L571.40 327.33M590.40 335.77L594.60 324.17M591.51 326.96L594.60 324.17L595.19 328.30M612.10 333.47L619.10 326.47M615.58 327.55L619.10 326.47L618.02 329.99M634.65 334.27L642.75 325.67M638.90 326.97L642.75 325.67L641.68 329.59M661.10 334.87L662.50 325.07M660.33 328.04L662.50 325.07L663.75 328.53M160.75 357.76L169.55 341.16M165.03 344.22L169.55 341.16L169.56 346.62M185.60 358.86L190.90 340.06M187.03 344.11L190.90 340.06L192.09 345.53M208.90 358.86L213.80 340.06M210.02 344.17L213.80 340.06L215.09 345.49M234.45 359.46L234.45 339.46M231.82 344.40L234.45 339.46L237.08 344.40M257.90 359.96L257.20 338.96M254.74 343.99L257.20 338.96L259.99 343.81M277.55 358.86L283.75 340.06M279.70 343.93L283.75 340.06L284.70 345.58M302.55 357.76L304.95 341.16M301.96 345.24L304.95 341.16L306.66 345.92M326.35 357.46L327.35 341.46M324.78 345.64L327.35 341.46L329.38 345.93M349.95 359.46L349.95 339.46M347.32 344.40L349.95 339.46L352.58 344.40M371.95 358.96L374.15 339.96M371.01 344.51L374.15 339.96L376.17 345.10M398.05 359.46L394.25 339.46M392.59 344.81L394.25 339.46L397.76 343.83M420.95 359.46L417.55 339.46M415.79 344.78L417.55 339.46L420.97 343.89M445.73 360.16L438.98 338.76M437.96 344.27L438.98 338.76L442.97 342.68M466.00 357.33L464.90 341.58M462.92 346.02L464.90 341.58L467.47 345.70M488.20 359.46L488.90 339.46M486.10 344.31L488.90 339.46L491.35 344.49M511.30 357.36L512.00 341.56M509.53 345.75L512.00 341.56L514.09 345.95M532.75 355.26L536.75 343.66M533.71 346.49L536.75 343.66L537.40 347.76M558.80 355.26L556.90 343.66M555.60 347.50L556.90 343.66L559.35 346.88M578.65 352.46L583.25 346.46M580.33 347.79L583.25 346.46L582.72 349.63M600.35 351.81L607.75 347.11M604.31 347.38L607.75 347.11L606.05 350.11M624.25 352.71L630.05 346.21M626.82 347.40L630.05 346.21L629.23 349.55M649.10 352.71L651.40 346.21M649.13 348.29L651.40 346.21L651.86 349.26M673.95 354.11L672.75 344.81M671.49 348.16L672.75 344.81L674.82 347.73M151.10 376.95L156.10 360.95M152.51 364.50L156.10 360.95L157.03 365.92M173.70 377.60L179.70 360.30M175.77 363.95L179.70 360.30L180.53 365.60M197.90 377.95L201.70 359.95M198.25 364.08L201.70 359.95L203.19 365.12M220.70 377.95L225.10 359.95M221.50 363.98L225.10 359.95L226.43 365.19M245.55 378.35L246.45 359.55M243.66 364.25L246.45 359.55L248.78 364.49M267.75 377.60L270.45 360.30M267.33 364.46L270.45 360.30L272.15 365.21M290.20 378.35L294.20 359.55M290.64 363.80L294.20 359.55L295.73 364.88M313.85 377.25L316.75 360.65M313.63 364.65L316.75 360.65L318.32 365.47M338.40 378.45L338.40 359.45M335.82 364.31L338.40 359.45L340.98 364.31M361.85 377.45L361.15 360.45M358.94 365.05L361.15 360.45L363.73 364.85M385.15 379.65L384.05 358.25M381.68 363.32L384.05 358.25L386.93 363.05M409.95 377.45L405.45 360.45M404.26 365.53L405.45 360.45L409.00 364.28M434.50 377.95L427.10 359.95M426.55 365.52L427.10 359.95L431.41 363.52M453.35 376.82L454.45 361.07M451.88 365.19L454.45 361.07L456.43 365.51M477.80 377.45L476.20 360.45M474.23 365.17L476.20 360.45L479.01 364.72M500.10 374.95L500.10 362.95M498.18 366.57L500.10 362.95L502.02 366.57M523.20 372.45L523.20 365.45M521.74 368.19L523.20 365.45L524.66 368.19M546.30 373.60L546.30 364.30M544.63 367.44L546.30 364.30L547.97 367.44M567.65 373.60L571.15 364.30M568.38 366.74L571.15 364.30L571.62 367.96M589.60 370.70L595.40 367.20M592.35 367.37L595.40 367.20L593.83 369.82M616.55 373.60L614.65 364.30M613.63 367.75L614.65 364.30L616.94 367.07M636.70 373.00L640.70 364.90M637.85 366.95L640.70 364.90L640.81 368.41M660.85 374.20L662.75 363.70M660.38 366.71L662.75 363.70L663.92 367.35M161.30 396.19L169.00 380.69M164.80 383.69L169.00 380.69L169.14 385.85M185.25 396.19L191.25 380.69M187.45 383.98L191.25 380.69L191.85 385.68M210.25 396.74L212.45 380.14M209.51 384.25L212.45 380.14L214.21 384.87M234.45 397.84L234.45 379.04M231.89 383.86L234.45 379.04L237.01 383.86M258.30 397.44L256.80 379.44M254.70 384.32L256.80 379.44L259.67 383.91M282.15 397.44L279.15 379.44M277.45 384.51L279.15 379.44L282.40 383.69M302.00 396.94L305.50 379.94M302.20 383.92L305.50 379.94L306.96 384.90M328.55 397.94L325.15 378.94M323.45 384.23L325.15 378.94L328.58 383.31M349.95 396.94L349.95 379.94M347.56 384.44L349.95 379.94L352.34 384.44M375.05 397.44L371.05 379.44M369.61 384.63L371.05 379.44L374.55 383.54M397.50 397.94L394.80 378.94M392.91 384.15L394.80 378.94L398.06 383.42M420.00 397.94L418.50 378.94M416.30 384.00L418.50 378.94L421.46 383.59M441.25 396.31L443.45 380.56M440.58 384.52L443.45 380.56L445.12 385.15M468.25 396.31L462.65 380.56M461.91 385.55L462.65 380.56L466.37 383.97M488.55 394.64L488.55 382.24M486.59 385.93L488.55 382.24L490.51 385.93M510.95 393.09L512.35 383.79M510.22 386.67L512.35 383.79L513.54 387.17M534.75 393.09L534.75 383.79M533.08 386.93L534.75 383.79L536.42 386.93M555.85 393.09L559.85 383.79M556.94 386.12L559.85 383.79L560.16 387.50M580.60 391.94L581.30 384.94M579.58 387.52L581.30 384.94L582.48 387.81M604.65 394.24L603.45 382.64M601.93 386.38L603.45 382.64L605.70 385.99M626.55 394.24L627.75 382.64M625.50 385.99L627.75 382.64L629.27 386.38M650.60 391.94L649.90 384.94M648.72 387.81L649.90 384.94L651.62 387.52M675.10 393.09L671.60 383.79M671.13 387.45L671.60 383.79L674.37 386.23M152.10 415.93L155.10 399.93M152.01 403.80L155.10 399.93L156.58 404.66M177.05 416.78L176.35 399.08M174.07 403.80L176.35 399.08L178.99 403.61M200.05 416.43L199.55 399.43M197.29 404.00L199.55 399.43L202.08 403.86M223.35 416.43L222.45 399.43M220.30 404.06L222.45 399.43L225.08 403.80M244.90 416.23L247.10 399.63M244.16 403.74L247.10 399.63L248.86 404.36M269.35 416.93L268.85 398.93M266.49 403.68L268.85 398.93L271.47 403.54M291.10 416.43L293.30 399.43M290.33 403.61L293.30 399.43L295.11 404.23M317.30 416.78L313.30 399.08M311.90 404.22L313.30 399.08L316.78 403.12M335.80 416.43L341.00 399.43M337.28 403.15L341.00 399.43L342.00 404.59M363.20 416.93L359.80 398.93M358.20 404.05L359.80 398.93L363.15 403.12M386.50 416.93L382.70 398.93M381.21 404.10L382.70 398.93L386.15 403.06M410.62 416.93L404.77 398.93M403.82 404.33L404.77 398.93L408.72 402.74M435.05 417.43L426.55 398.43M426.17 404.02L426.55 398.43L430.97 401.87M456.70 416.93L451.10 398.93M450.08 404.30L451.10 398.93L454.99 402.78M477.55 416.93L476.45 398.93M474.25 403.76L476.45 398.93L479.22 403.45M500.10 413.93L500.10 401.93M498.18 405.55L500.10 401.93L502.02 405.55M521.10 413.73L525.30 402.13M522.21 404.92L525.30 402.13L525.89 406.26M546.75 413.18L545.85 402.68M544.36 406.18L545.85 402.68L547.92 405.88M570.90 413.18L567.90 402.68M567.09 406.48L567.90 402.68L570.60 405.48M596.55 413.18L588.45 402.68M589.18 406.97L588.45 402.68L592.42 404.47M615.60 413.18L615.60 402.68M613.82 406.04L615.60 402.68L617.38 406.04M638.95 412.58L638.45 403.28M636.95 406.51L638.45 403.28L640.29 406.33M659.80 410.48L663.80 405.38M661.06 406.59L663.80 405.38L663.27 408.33M164.05 434.62L166.25 420.22M163.49 423.92L166.25 420.22L167.78 424.57M187.35 434.62L189.15 420.22M186.50 423.98L189.15 420.22L190.79 424.52M212.45 434.62L210.25 420.22M208.72 424.57L210.25 420.22L213.01 423.92M234.80 434.62L234.10 420.22M232.15 424.37L234.10 420.22L236.45 424.16M258.65 434.62L256.45 420.22M254.92 424.57L256.45 420.22L259.21 423.92M282.10 435.17L279.20 419.67M277.75 424.30L279.20 419.67L282.23 423.46M304.85 434.62L302.65 420.22M301.12 424.57L302.65 420.22L305.41 423.92M325.95 435.92L327.75 418.92M324.88 423.16L327.75 418.92L329.66 423.67M354.45 435.92L345.45 418.92M345.44 424.47L345.45 418.92L350.04 422.03M377.00 436.92L369.10 417.92M368.57 423.49L369.10 417.92L373.43 421.48M398.75 435.92L393.55 418.92M392.55 424.08L393.55 418.92L397.27 422.64M422.40 435.92L416.10 418.92M415.39 424.20L416.10 418.92L420.08 422.46M441.45 436.42L443.25 418.42M440.30 422.84L443.25 418.42L445.27 423.34M469.40 435.29L461.50 419.54M461.38 424.77L461.50 419.54L465.76 422.57M487.65 434.17L489.45 420.67M486.88 424.27L489.45 420.67L490.99 424.82M517.25 432.67L506.05 422.17M507.59 426.68L506.05 422.17L510.65 423.42M540.55 430.92L528.95 423.92M531.21 427.70L528.95 423.92L533.35 424.16M553.80 430.92L561.90 423.92M558.15 424.77L561.90 423.92L560.51 427.50M584.45 431.62L577.45 423.22M578.25 427.02L577.45 423.22L581.05 424.69M605.90 432.07L602.20 422.77M601.79 426.45L602.20 422.77L605.02 425.16M629.50 432.07L624.80 422.77M624.72 426.55L624.80 422.77L627.89 424.95M651.75 429.92L648.75 424.92M648.90 427.78L648.75 424.92L651.21 426.40M676.85 430.57L669.85 424.27M671.08 427.64L669.85 424.27L673.33 425.14M154.60 453.91L152.60 439.91M151.06 444.17L152.60 439.91L155.27 443.57M178.05 453.56L175.35 440.26M174.09 444.49L175.35 440.26L178.16 443.67M200.55 454.91L199.05 438.91M197.16 443.45L199.05 438.91L201.75 443.01M225.10 455.91L220.70 437.91M219.37 443.15L220.70 437.91L224.30 441.94M248.45 454.66L243.55 439.16M242.65 444.03L243.55 439.16L247.08 442.63M270.45 454.91L267.75 438.91M266.19 443.60L267.75 438.91L270.77 442.83M293.30 455.76L291.10 438.06M289.22 442.98L291.10 438.06L294.13 442.37M317.20 454.91L313.40 438.91M312.14 443.74L313.40 438.91L316.70 442.65M340.30 455.41L336.50 438.41M335.12 443.41L336.50 438.41L339.87 442.35M362.85 453.66L360.15 440.16M358.87 444.43L360.15 440.16L362.97 443.61M387.60 455.91L381.60 437.91M380.69 443.33L381.60 437.91L385.58 441.70M410.50 455.41L404.90 438.41M404.00 443.61L404.90 438.41L408.71 442.06M431.55 454.21L430.05 439.61M428.30 443.90L430.05 439.61L432.63 443.46M455.40 449.91L452.40 443.91M452.32 446.95L452.40 443.91L454.88 445.67M479.25 452.76L474.75 441.06M474.24 445.24L474.75 441.06L477.93 443.82M502.60 451.91L497.60 441.91M497.50 445.84L497.60 441.91L500.81 444.19M522.05 452.71L524.35 441.11M521.78 444.26L524.35 441.11L525.52 445.00M550.15 452.71L542.45 441.11M542.89 445.57L542.45 441.11L546.39 443.24M571.40 452.71L567.40 441.11M566.75 445.21L567.40 441.11L570.44 443.94M598.90 448.91L586.10 444.91M589.18 448.03L586.10 444.91L590.41 444.10M618.85 451.31L612.35 442.51M612.92 446.36L612.35 442.51L615.86 444.19M639.05 448.56L638.35 445.26M637.69 447.54L638.35 445.26L639.88 447.08M665.85 449.56L657.75 444.26M659.50 447.45L657.75 444.26L661.37 444.59M166.60 473.60L163.70 459.20M162.37 463.64L163.70 459.20L166.64 462.78M186.90 475.60L189.60 457.20M186.39 461.56L189.60 457.20L191.42 462.30M213.80 475.05L208.90 457.75M207.78 462.93L208.90 457.75L212.57 461.57M236.65 474.70L232.25 458.10M231.08 463.10L232.25 458.10L235.74 461.86M261.20 475.05L253.90 457.75M253.41 463.18L253.90 457.75L258.13 461.19M283.30 475.25L278.00 457.55M276.94 462.84L278.00 457.55L281.79 461.39M306.30 475.25L301.20 457.55M300.09 462.82L301.20 457.55L304.95 461.42M327.60 474.15L326.10 458.65M324.26 463.10L326.10 458.65L328.76 462.66M355.25 472.50L344.65 460.30M345.76 465.11L344.65 460.30L349.25 462.07M373.05 474.05L373.05 458.75M370.82 462.95L373.05 458.75L375.28 462.95M398.75 474.27L393.55 458.52M392.70 463.47L393.55 458.52L397.18 461.99M419.60 474.05L418.90 458.75M416.86 463.05L418.90 458.75L421.33 462.85M445.35 474.27L439.35 458.52M438.72 463.56L439.35 458.52L443.17 461.86M465.20 473.70L465.70 459.10M463.39 463.10L465.70 459.10L467.73 463.25M490.80 473.70L486.30 459.10M485.40 463.77L486.30 459.10L489.67 462.46M517.25 472.20L506.05 460.60M507.41 465.33L506.05 460.60L510.73 462.12M537.40 473.40L532.10 459.40M531.51 464.06L532.10 459.40L535.63 462.50M560.50 468.15L555.20 464.65M556.62 467.26L555.20 464.65L558.16 464.93M585.95 472.20L575.95 460.60M577.00 465.25L575.95 460.60L580.39 462.33M604.65 473.40L603.45 459.40M601.68 463.55L603.45 459.40L605.90 463.19M631.00 470.80L623.30 462.00M624.22 465.93L623.30 462.00L627.08 463.44M654.30 470.60L646.20 462.20M647.31 466.08L646.20 462.20L650.04 463.45M676.50 469.90L670.20 462.90M671.07 466.38L670.20 462.90L673.57 464.13M155.60 492.89L151.60 478.89M150.64 483.40L151.60 478.89L154.80 482.21M180.00 492.89L173.40 478.89M173.17 483.68L173.40 478.89L177.24 481.76M203.30 494.74L196.30 477.04M195.68 482.51L196.30 477.04L200.49 480.61M224.80 494.74L221.00 477.04M219.54 482.16L221.00 477.04L224.43 481.11M247.75 494.74L244.25 477.04M242.71 482.12L244.25 477.04L247.60 481.15M269.65 493.19L268.55 478.59M266.69 482.83L268.55 478.59L271.02 482.50M293.65 494.19L290.75 477.59M289.18 482.41L290.75 477.59L293.87 481.59M317.20 492.89L313.40 478.89M312.38 483.38L313.40 478.89L316.55 482.24M339.50 493.76L337.30 478.01M335.63 482.60L337.30 478.01L340.17 481.97M360.60 492.64L362.40 479.14M359.83 482.74L362.40 479.14L363.94 483.29M387.98 493.76L381.23 478.01M380.80 483.12L381.23 478.01L385.22 481.23M414.45 492.64L400.95 479.14M402.56 484.42L400.95 479.14L406.23 480.75M431.90 492.64L429.70 479.14M428.27 483.34L429.70 479.14L432.39 482.67M456.90 492.64L450.90 479.14M450.57 483.78L450.90 479.14L454.57 482.01M482.30 491.89L471.70 479.89M472.84 484.66L471.70 479.89L476.29 481.61M504.10 490.89L496.10 480.89M496.89 485.08L496.10 480.89L500.01 482.58M524.85 493.19L521.55 478.59M520.31 483.12L521.55 478.59L524.61 482.15M551.20 490.54L541.40 481.24M542.80 485.41L541.40 481.24L545.64 482.42M574.65 491.69L564.15 480.09M565.33 484.77L564.15 480.09L568.69 481.73M597.75 489.14L587.25 482.64M589.35 486.24L587.25 482.64L591.41 482.91M614.90 491.69L616.30 480.09M613.99 483.40L616.30 480.09L617.75 483.86M640.10 491.69L637.30 480.09M636.28 484.05L637.30 480.09L640.01 483.15M666.10 490.54L657.50 481.24M658.58 485.33L657.50 481.24L661.50 482.63M171.55 512.88L158.75 497.88M159.96 503.35L158.75 497.88L163.96 499.93M190.80 512.88L185.70 497.88M184.92 502.69L185.70 497.88L189.25 501.21M213.55 513.13L209.15 497.63M208.11 502.44L209.15 497.63L212.56 501.18M236.00 513.38L232.90 497.38M231.45 502.12L232.90 497.38L236.02 501.24M260.55 514.23L254.55 496.53M253.67 501.90L254.55 496.53L258.51 500.26M283.10 514.23L278.20 496.53M277.03 501.78L278.20 496.53L281.90 500.43M305.95 513.68L301.55 497.08M300.38 502.08L301.55 497.08L305.04 500.84M329.10 513.88L324.60 496.88M323.41 501.96L324.60 496.88L328.15 500.71M349.40 512.13L350.50 498.63M348.12 502.34L350.50 498.63L352.25 502.68M376.05 512.13L370.05 498.63M369.72 503.27L370.05 498.63L373.72 501.50M397.85 512.88L394.45 497.88M393.20 502.49L394.45 497.88L397.57 501.50M426.55 511.00L411.95 499.75M414.17 504.66L411.95 499.75L417.26 500.65M442.60 512.88L442.10 497.88M440.03 502.10L442.10 497.88L444.44 501.96M470.30 511.23L460.60 499.53M461.56 504.17L460.60 499.53L464.98 501.33M494.18 509.63L482.93 501.13M484.83 505.23L482.93 501.13L487.39 501.84M514.90 511.43L508.40 499.33M508.42 503.78L508.40 499.33L512.10 501.80M535.10 510.03L534.40 500.73M532.97 503.99L534.40 500.73L536.31 503.74M561.10 509.78L554.60 500.98M555.17 504.83L554.60 500.98L558.11 502.66M582.45 511.78L579.45 498.98M578.34 503.17L579.45 498.98L582.30 502.24M609.55 509.58L598.55 501.18M600.41 505.24L598.55 501.18L602.96 501.91M624.80 508.88L629.50 501.88M626.51 503.48L629.50 501.88L629.15 505.25M655.50 510.48L645.00 500.28M646.42 504.69L645.00 500.28L649.44 501.57M677.20 509.78L669.50 500.98M670.42 504.91L669.50 500.98L673.28 502.42M157.60 532.87L149.60 516.87M149.47 522.15L149.60 516.87L153.90 519.93M180.90 533.17L172.50 516.57M172.39 521.99L172.50 516.57L176.93 519.69M203.10 534.27L196.50 515.47M195.66 521.01L196.50 515.47L200.62 519.26M225.45 534.27L220.35 515.47M219.11 520.93L220.35 515.47L224.18 519.55M248.20 534.27L243.80 515.47M242.38 520.85L243.80 515.47L247.46 519.66M272.20 534.27L266.00 515.47M265.05 520.99L266.00 515.47L270.05 519.34M296.40 533.17L288.00 516.57M287.89 521.99L288.00 516.57L292.43 519.69M317.85 533.17L312.75 516.57M311.77 521.65L312.75 516.57L316.41 520.22M341.40 534.37L335.40 515.37M334.38 520.88L335.40 515.37L339.40 519.29M362.15 533.72L360.85 516.02M358.73 520.82L360.85 516.02L363.65 520.46M386.50 532.75L382.70 517.00M381.47 521.78L382.70 517.00L385.98 520.69M408.50 532.75L406.90 517.00M405.06 521.50L406.90 517.00L409.61 521.04M432.25 530.50L429.35 519.25M428.41 523.16L429.35 519.25L432.07 522.21M458.40 528.82L449.40 520.92M450.85 524.75L449.40 520.92L453.39 521.86M479.25 530.27L474.75 519.47M474.37 523.49L474.75 519.47L477.87 522.03M503.10 528.87L497.10 520.87M497.67 524.53L497.10 520.87L500.45 522.44M524.70 529.27L521.70 520.47M521.13 523.98L521.70 520.47L524.30 522.91M548.30 530.12L544.30 519.62M543.81 523.54L544.30 519.62L547.27 522.22M573.45 527.77L565.35 521.97M566.99 525.28L565.35 521.97L569.01 522.46M593.40 529.27L591.60 520.47M590.61 523.82L591.60 520.47L593.83 523.17M619.90 528.12L611.30 521.62M612.92 525.12L611.30 521.62L615.11 522.23M641.05 527.67L636.35 522.07M637.01 525.16L636.35 522.07L639.28 523.25M667.60 529.52L656.00 520.22M657.85 524.51L656.00 520.22L660.59 521.09M169.40 557.31L160.90 531.41M159.94 536.93L160.90 531.41L164.94 535.29M191.90 556.71L184.60 532.01M183.48 537.50L184.60 532.01L188.52 536.01M214.70 556.46L208.00 532.26M206.79 537.73L208.00 532.26L211.85 536.32M235.55 555.86L233.35 532.86M231.20 538.03L233.35 532.86L236.44 537.53M258.90 554.86L256.20 533.86M254.22 539.10L256.20 533.86L259.44 538.43M284.85 554.86L276.45 533.86M275.85 539.43L276.45 533.86L280.73 537.47M308.15 552.86L299.35 535.86M299.29 541.39L299.35 535.86L303.90 539.00M329.65 553.86L324.05 534.86M322.93 540.35L324.05 534.86L327.97 538.86M353.55 555.36L346.35 533.36M345.39 538.88L346.35 533.36L350.39 537.24M374.55 552.24L371.55 536.49M370.10 541.17L371.55 536.49L374.62 540.31M397.50 553.36L394.80 535.36M393.02 540.39L394.80 535.36L397.98 539.65M418.35 552.56L420.15 536.16M417.34 540.29L420.15 536.16L422.00 540.80M442.35 551.66L442.35 537.06M440.18 541.14L442.35 537.06L444.52 541.14M464.90 550.56L466.00 538.16M463.71 541.67L466.00 538.16L467.63 542.02M487.90 551.11L489.20 537.61M486.76 541.29L489.20 537.61L490.89 541.69M514.90 549.61L508.40 539.11M508.67 543.27L508.40 539.11L512.00 541.21M535.10 550.76L534.40 537.96M532.61 541.83L534.40 537.96L536.60 541.61M559.60 548.76L556.10 539.96M555.70 543.53L556.10 539.96L558.84 542.29M587.95 547.36L573.95 541.36M576.92 545.06L573.95 541.36L578.68 540.96M605.80 549.01L602.30 539.71M601.83 543.37L602.30 539.71L605.07 542.15M627.75 547.86L626.55 540.86M625.57 543.82L626.55 540.86L628.46 543.33M656.30 549.36L644.20 539.36M646.05 543.83L644.20 539.36L648.94 540.33M676.85 548.41L669.85 540.31M670.70 544.06L669.85 540.31L673.43 541.70M158.60 575.85L148.60 551.85M148.07 557.43L148.60 551.85L152.93 555.40M181.70 575.85L171.70 551.85M171.17 557.43L171.70 551.85L176.03 555.40M204.00 575.65L195.60 552.05M194.78 557.59L195.60 552.05L199.73 555.83M225.70 574.80L220.10 552.90M218.78 558.34L220.10 552.90L223.87 557.04M248.45 573.85L243.55 553.85M242.17 559.28L243.55 553.85L247.28 558.03M269.65 573.85L268.55 553.85M266.20 558.93L268.55 553.85L271.45 558.64M293.85 572.15L290.55 555.55M289.08 560.42L290.55 555.55L293.77 559.49M321.05 573.85L309.55 553.85M309.74 559.45L309.55 553.85L314.29 556.83M342.00 573.35L334.80 554.35M334.09 559.91L334.80 554.35L339.01 558.04M361.50 572.85L361.50 554.85M359.01 559.53L361.50 554.85L363.99 559.53M386.10 574.55L383.10 553.15M381.18 558.41L383.10 553.15L386.39 557.68M408.20 572.85L407.20 554.85M404.97 559.67L407.20 554.85L409.95 559.39M430.30 572.35L431.30 555.35M428.64 559.71L431.30 555.35L433.43 559.99M453.00 572.85L454.80 554.85M451.85 559.27L454.80 554.85L456.82 559.77M475.30 571.15L478.70 556.55M475.61 560.09L478.70 556.55L479.91 561.09M500.10 570.85L500.10 556.85M497.99 560.82L500.10 556.85L502.21 560.82M526.35 570.85L520.05 556.85M519.74 561.61L520.05 556.85L523.82 559.77M547.45 568.50L545.15 559.20M544.27 562.71L545.15 559.20L547.56 561.89M570.55 570.00L568.25 557.70M566.99 561.71L568.25 557.70L570.87 560.98M596.35 569.10L588.65 558.60M589.27 562.86L588.65 558.60L592.53 560.47M617.60 570.00L613.60 557.70M612.86 561.92L613.60 557.70L616.68 560.68M639.05 569.65L638.35 558.05M636.68 561.71L638.35 558.05L640.45 561.48M667.05 567.90L656.55 559.80M658.34 563.77L656.55 559.80L660.84 560.53M171.15 595.34L159.15 571.34M159.01 576.94L159.15 571.34L163.71 574.59M193.75 594.34L182.75 572.34M182.61 577.94L182.75 572.34L187.31 575.59M215.75 591.09L206.95 575.59M207.10 580.85L206.95 575.59L211.39 578.41M237.75 591.09L231.15 575.59M230.71 580.64L231.15 575.59L235.09 578.78M258.45 591.09L256.65 575.59M254.89 580.08L256.65 575.59L259.39 579.56M281.55 591.09L279.75 575.59M277.99 580.08L279.75 575.59L282.49 579.56M305.20 590.54L302.30 576.14M300.97 580.58L302.30 576.14L305.24 579.72M327.85 590.84L325.85 575.84M324.20 580.27L325.85 575.84L328.60 579.68M350.95 590.34L348.95 576.34M347.41 580.60L348.95 576.34L351.62 580.00M371.95 590.64L374.15 576.04M371.38 579.78L374.15 576.04L375.70 580.43M396.15 591.21L396.15 575.46M393.87 579.75L396.15 575.46L398.43 579.75M418.15 590.09L420.35 576.59M417.66 580.12L420.35 576.59L421.78 580.79M442.70 591.09L442.00 575.59M439.94 579.93L442.00 575.59L444.44 579.72M465.10 591.79L465.80 574.89M463.23 579.28L465.80 574.89L468.00 579.47M489.05 590.84L488.05 575.84M486.12 580.13L488.05 575.84L490.53 579.84M513.40 591.14L509.90 575.54M508.60 580.26L509.90 575.54L513.09 579.26M532.65 589.14L536.85 577.54M533.76 580.33L536.85 577.54L537.44 581.67M557.15 589.74L558.55 576.94M556.14 580.47L558.55 576.94L560.13 580.91M582.10 588.94L579.80 577.74M578.67 581.56L579.80 577.74L582.34 580.81M605.80 588.34L602.30 578.34M601.72 582.11L602.30 578.34L605.11 580.93M627.50 588.94L626.80 577.74M625.17 581.33L626.80 577.74L628.87 581.10M654.30 587.64L646.20 579.04M647.27 582.96L646.20 579.04L650.05 580.34M676.85 586.34L669.85 580.34M671.14 583.64L669.85 580.34L673.31 581.11M158.60 613.83L148.60 591.83M148.25 597.42L148.60 591.83L153.04 595.24M180.70 611.83L172.70 593.83M172.31 599.42L172.70 593.83L177.11 597.28M203.30 610.83L196.30 594.83M195.90 600.01L196.30 594.83L200.37 598.05M225.90 610.33L219.90 595.33M219.37 600.23L219.90 595.33L223.67 598.51M248.00 610.33L244.00 595.33M242.91 600.01L244.00 595.33L247.27 598.85M270.60 610.33L267.60 595.33M266.23 599.89L267.60 595.33L270.62 599.01M293.20 609.83L291.20 595.83M289.66 600.09L291.20 595.83L293.87 599.49M316.30 609.83L314.30 595.83M312.76 600.09L314.30 595.83L316.97 599.49M339.40 609.83L337.40 595.83M335.86 600.09L337.40 595.83L340.07 599.49M362.00 609.83L361.00 595.83M359.17 599.95L361.00 595.83L363.39 599.65M384.60 609.83L384.60 595.83M382.49 599.80L384.60 595.83L386.71 599.80M407.70 609.83L407.70 595.83M405.59 599.80L407.70 595.83L409.81 599.80M430.80 609.83L430.80 595.83M428.69 599.80L430.80 595.83L432.91 599.80M453.90 609.83L453.90 595.83M451.79 599.80L453.90 595.83L456.01 599.80M477.00 609.33L477.00 596.33M474.98 600.13L477.00 596.33L479.02 600.13M500.60 609.33L499.60 596.33M497.88 600.28L499.60 596.33L501.91 599.97M524.20 608.83L522.20 596.83M520.89 600.75L522.20 596.83L524.71 600.11M546.80 608.83L545.80 596.83M544.18 600.61L545.80 596.83L548.02 600.28M570.40 608.83L568.40 596.83M567.09 600.75L568.40 596.83L570.91 600.11M594.00 608.33L591.00 597.33M590.12 601.21L591.00 597.33L593.73 600.23M617.10 608.33L614.10 597.33M613.22 601.21L614.10 597.33L616.83 600.23M640.70 607.83L636.70 597.83M636.28 601.66L636.70 597.83L639.64 600.32M664.80 606.83L658.80 598.83M659.37 602.49L658.80 598.83L662.15 600.40" fill="none" stroke="#000" stroke-width="0.75" stroke-linecap="butt" stroke-linejoin="miter"/>
<polygon points="422.75,286.60 424.34,291.02 429.03,291.16 425.32,294.03 426.63,298.54 422.75,295.90 418.87,298.54 420.18,294.03 416.47,291.16 421.16,291.02" fill="none" stroke="#000" stroke-width="1.3" stroke-linejoin="miter"/>
<polygon points="458.25,445.60 459.72,449.58 463.96,449.75 460.63,452.37 461.78,456.45 458.25,454.10 454.72,456.45 455.87,452.37 452.54,449.75 456.78,449.58" fill="none" stroke="#000" stroke-width="1.3" stroke-linejoin="miter"/>
</g>
<rect x="154.2" y="72.45" width="530.20" height="530.90" fill="none" stroke="#000" stroke-width="1.25"/>
<path d="M154.2 100.4H168.2M154.2 232.2H168.2M154.2 364.4H168.2M154.2 496.3H168.2M684.4 232.5H670.9M684.4 364.75H670.9M684.4 496.4H670.9M163.6 603.35V589.35M277.6 603.35V589.35M391.2 603.35V589.35M505 603.35V589.35M618.7 603.35V589.35M186 72.45V85.95M290.6 72.45V85.95M393.7 72.45V85.95M496.5 72.45V85.95M600 72.45V85.95" stroke="#000" stroke-width="1.4" fill="none"/>
<rect x="658.5" y="72.6" width="29" height="38.8" fill="#fff" stroke="#222" stroke-width="0.75"/>
<text x="672.6" y="86.7" font-size="14.8" text-anchor="middle">8</text>
<path d="M661.3 97.3H683.6M679 95.2L683.6 97.3L679 99.4M680.5 96.2L680.5 98.4" stroke="#222" stroke-width="0.7" fill="none"/>
<text x="294.7" y="26.7" font-size="14.25" font-weight="bold">2023/7/26/23UTC (17LT), Wednesday</text>
<text x="294.7" y="41.9" font-size="14.25" font-weight="bold">FV3M0B2L1_GFS025</text>
<text x="152.6" y="63.8" font-size="24.2">instantaneous surface downward shortwave flux</text>
<text x="684.6" y="63.8" font-size="24" text-anchor="end">W/m**2</text>
<text x="220.4" y="619.2" font-size="14.5">Min= 24 Max= 556</text>
<text x="163" y="624.3" font-size="14.3" text-anchor="middle">102°W</text>
<text x="391.2" y="624.3" font-size="14.3" text-anchor="middle">98°W</text>
<text x="618.7" y="624.3" font-size="14.3" text-anchor="middle">94°W</text>
<text x="143.6" y="237.6" font-size="14.3" text-anchor="end">36°N</text>
<text x="143.6" y="501.4" font-size="14.3" text-anchor="end">32°N</text>
<rect x="162.00" y="627.7" width="36.79" height="14.3" fill="#0000f2"/>
<rect x="198.79" y="627.7" width="36.79" height="14.3" fill="#0a78fa"/>
<rect x="235.57" y="627.7" width="36.79" height="14.3" fill="#00f0ff"/>
<rect x="272.36" y="627.7" width="36.79" height="14.3" fill="#00e09e"/>
<rect x="309.14" y="627.7" width="36.79" height="14.3" fill="#00bb30"/>
<rect x="345.93" y="627.7" width="36.79" height="14.3" fill="#58c800"/>
<rect x="382.71" y="627.7" width="36.79" height="14.3" fill="#c8e800"/>
<rect x="419.50" y="627.7" width="36.79" height="14.3" fill="#ffe800"/>
<rect x="456.29" y="627.7" width="36.79" height="14.3" fill="#ffc000"/>
<rect x="493.07" y="627.7" width="36.79" height="14.3" fill="#ff8c00"/>
<rect x="529.86" y="627.7" width="36.79" height="14.3" fill="#ff4500"/>
<rect x="566.64" y="627.7" width="36.79" height="14.3" fill="#f5000a"/>
<rect x="603.43" y="627.7" width="36.79" height="14.3" fill="#a00040"/>
<rect x="640.21" y="627.7" width="36.79" height="14.3" fill="#580088"/>
<path d="M198.79 627.7V642M235.57 627.7V642M272.36 627.7V642M309.14 627.7V642M345.93 627.7V642M382.71 627.7V642M419.50 627.7V642M456.29 627.7V642M493.07 627.7V642M529.86 627.7V642M566.64 627.7V642M603.43 627.7V642M640.21 627.7V642" stroke="#000" stroke-width="0.9"/>
<rect x="162.0" y="627.7" width="515" height="14.3" fill="none" stroke="#000" stroke-width="0.9"/>
<text x="198.79" y="656.6" font-size="14.3" text-anchor="middle">40</text>
<text x="272.36" y="656.6" font-size="14.3" text-anchor="middle">120</text>
<text x="345.93" y="656.6" font-size="14.3" text-anchor="middle">200</text>
<text x="419.50" y="656.6" font-size="14.3" text-anchor="middle">280</text>
<text x="493.07" y="656.6" font-size="14.3" text-anchor="middle">360</text>
<text x="566.64" y="656.6" font-size="14.3" text-anchor="middle">440</text>
<text x="640.21" y="656.6" font-size="14.3" text-anchor="middle">520</text>
</svg></body></html>
